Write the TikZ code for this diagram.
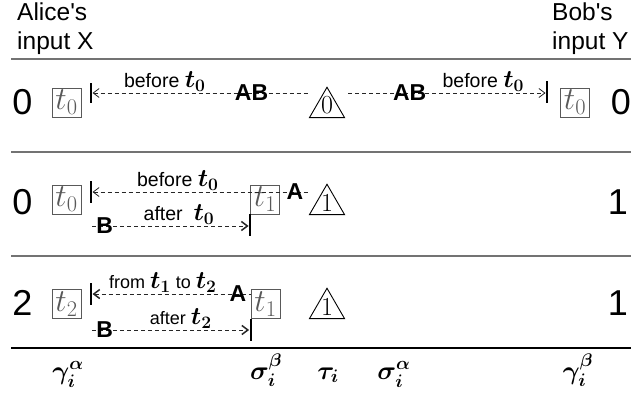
\documentclass[tikz,border=0pt]{standalone}
\usepackage{fix-cm}
\usepackage{amsmath}
\usepackage{fontspec}
\setsansfont{Liberation Sans}[Ligatures=TeXOff]
\usetikzlibrary{arrows.meta,shapes.geometric}

\newcommand{\bt}[1]{{\fontsize{25}{25}\selectfont$\boldsymbol{t_{#1}}$}}

\tikzset{
  hdr/.style={font=\sffamily\fontsize{24.5}{28.5}\selectfont, align=left, inner sep=0pt},
  val/.style={font=\sffamily\fontsize{36}{36}\selectfont, inner sep=0pt},
  tbox/.style={draw=black!65, line width=0.8pt, text=black!65, minimum size=29pt, inner sep=0pt, font=\fontsize{32}{32}\selectfont},
  tri/.style={draw, line width=0.9pt, regular polygon, regular polygon sides=3, minimum size=40.5pt, inner sep=0pt},
  digit/.style={font=\fontsize{26}{26}\selectfont, inner sep=0pt, yshift=2pt},
  msg/.style={dash pattern=on 4pt off 3pt, line width=0.8pt, black!85},
  heavy/.style={-{Straight Barb[length=6pt,width=9pt,line width=1.5pt]}},
  tag/.style={font=\sffamily\fontsize{19.5}{19.5}\selectfont, above, inner sep=1.5pt, black},
  small tag/.style={tag, font=\sffamily\fontsize{18}{18}\selectfont},
  who/.style={font=\sffamily\bfseries\fontsize{23}{23}\selectfont, inner sep=0pt, black},
  barline/.style={line width=1.8pt},
  sep/.style={line width=1.3pt, black!55},
  sym/.style={font=\fontsize{26}{26}\selectfont, anchor=base},
}

\begin{document}
\begin{tikzpicture}[x=1pt, y=-1pt, >={Straight Barb[length=6pt,width=9pt]}]
    \useasboundingbox (0,0) rectangle (631,396);

    % whose input
    \node[hdr, anchor=north west] (alice) at (17,3) {Alice's\\input X};
    \node[hdr, anchor=north west] (bob) at (552,3) {Bob's\\input Y};

    \draw[sep] (11,59) -- (631,59);
    \draw[sep] (11,152) -- (631,152);
    \draw[sep] (11,256) -- (631,256);
    \draw[sep, black] (11,348) -- (631,348);

    % first row
    \node[val] (x1) at (22.5,102.5) {0};
    \node[tbox] (ta1) at (66.5,102.5) {$t_0$};
    \node[tri, label={[digit]center:0}] (tr1) at (327,107.5) {};
    \node[tbox] (tb1) at (575,102.5) {$t_0$};
    \node[val] (y1) at (621,102.5) {0};
    \coordinate (la1) at (91,93);
    \coordinate (ma1) at (308,93);
    \coordinate (mb1) at (348,93);
    \coordinate (lb1) at (547,93);
    \draw[barline] (la1) ++(0,-10) -- ++(0,20);
    \draw[barline] (lb1) ++(0,-12) -- ++(0,22);
    \draw[msg, <-, shorten <=1.5pt] (la1) -- (ma1)
        node[tag, pos=0.34] {before \bt{0}}
        node[who, pos=0.74] (ab1) {AB};
    \draw[msg, ->, shorten >=1.5pt] (mb1) -- (lb1)
        node[who, pos=0.31] (ab2) {AB}
        node[tag, pos=0.68] {before \bt{0}};

    % second row
    \node[val] (x2) at (22.5,202) {0};
    \node[tbox] (ta2) at (66.5,199.5) {$t_0$};
    \node[tbox] (tc2) at (265,199.5) {$t_1$};
    \node[tri, label={[digit]center:1}] (tr2) at (327,204.5) {};
    \node[val] (y2) at (618,202) {1};
    \coordinate (la2) at (91,192);
    \coordinate (ma2) at (308,192);
    \coordinate (lb2) at (92,226);
    \draw[barline] (la2) ++(0,-11) -- ++(0,22);
    \draw[barline] (tc2.south west) -- ++(0,22);
    \draw[msg, <-, shorten <=1.5pt] (la2) -- (ma2)
        node[tag, pos=0.4] {before \bt{0}}
        node[who, pos=0.94] (a2) {A};
    \draw[msg, heavy, shorten >=1.5pt] (lb2) -- (tc2.south west |- lb2)
        node[who, pos=0.08] (b2) {B}
        node[tag, pos=0.55] {after \ \bt{0}};

    % third row
    \node[val] (x3) at (22.5,303) {2};
    \node[tbox] (ta3) at (66.5,304) {$t_2$};
    \node[tbox] (tc3) at (265.5,304) {$t_1$};
    \node[tri, label={[digit]center:1}] (tr3) at (327,308.5) {};
    \node[val] (y3) at (618,303) {1};
    \coordinate (la3) at (91,294);
    \coordinate (lb3) at (92,330);
    \draw[barline] (la3) ++(0,-11) -- ++(0,22);
    \draw[barline] (tc3.south west) -- ++(0,22);
    \draw[msg, {Straight Barb[length=6pt,width=9pt,line width=1.5pt]}-, shorten <=1.5pt] (la3) -- (tc3.west |- la3)
        node[small tag, pos=0.45] {from \bt{1} to \bt{2}}
        node[who, pos=0.92] (a3) {A};
    \draw[msg, heavy, shorten >=1.5pt] (lb3) -- (tc3.south west |- lb3)
        node[who, pos=0.08] (b3) {B}
        node[small tag, pos=0.56] {after \bt{2}};

    % steps
    \node[sym] (ga) at (68,379) {$\boldsymbol{\gamma_i^\alpha}$};
    \node[sym] (sb) at (266,379) {$\boldsymbol{\sigma_i^\beta}$};
    \node[sym] (tau) at (328,379) {$\boldsymbol{\tau_i}$};
    \node[sym] (sa) at (394,379) {$\boldsymbol{\sigma_i^\alpha}$};
    \node[sym] (gb) at (578,379) {$\boldsymbol{\gamma_i^\beta}$};
\end{tikzpicture}
\end{document}
